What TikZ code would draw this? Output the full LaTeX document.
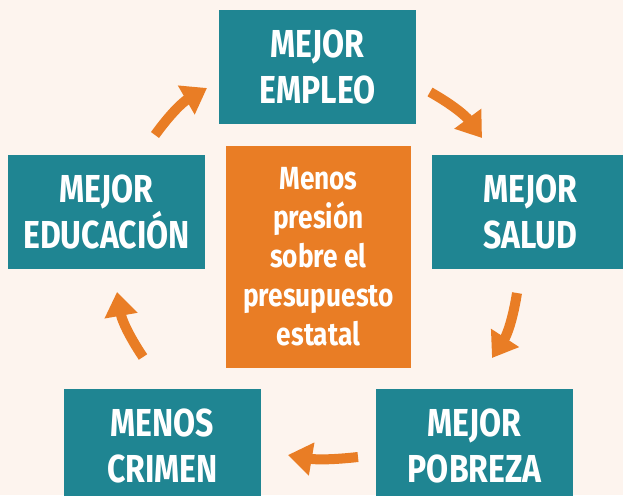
\documentclass[tikz,border=0pt]{standalone}
\usepackage{fontspec}
\setmainfont{Fira Sans}[FakeStretch=0.82]
\usetikzlibrary{arrows.meta}
\definecolor{tealbox}{HTML}{1F8592}
\definecolor{orangebox}{HTML}{E97D25}
\definecolor{bgcol}{HTML}{FDF4EE}
\begin{document}
\begin{tikzpicture}[x=1pt,y=-1pt,
  box/.style={fill=tealbox, text=white, minimum width=197pt, minimum height=114pt,
    inner sep=0pt, align=center, font=\fontsize{39}{46}\selectfont\bfseries},
  centerbox/.style={fill=orangebox, text=white, minimum width=185pt, minimum height=222pt,
    inner sep=0pt, align=center, font=\fontsize{32}{39}\selectfont\bfseries},
  cyc/.style={draw=orangebox, line width=10pt,
    -{Triangle[length=24pt,width=32pt]}}]
\useasboundingbox (0,0) rectangle (623,495);
\clip (0,0) rectangle (623,495);
\fill[bgcol] (0,0) rectangle (623,495);
\node[box] (empleo) at (317.5,67) {MEJOR\\EMPLEO};
\node[box] (educ) at (106.5,212) {MEJOR\\EDUCACIÓN};
\node[box] (salud) at (530.5,212) {MEJOR\\SALUD};
\node[box] (crimen) at (162.5,446) {MENOS\\CRIMEN};
\node[box] (pobreza) at (474.5,446) {MEJOR\\POBREZA};
\node[centerbox] (centro) at (318.5,257) {Menos\\presión\\sobre el\\presupuesto\\estatal};
\coordinate (a1s) at (155,135); \coordinate (a1e) at (207,88);
\coordinate (a2s) at (430,92);  \coordinate (a2e) at (482,138);
\coordinate (a3s) at (517,293); \coordinate (a3e) at (492,358);
\coordinate (a4s) at (358,457); \coordinate (a4e) at (288,455);
\coordinate (a5s) at (143,357); \coordinate (a5e) at (117,292);
\draw[cyc] (a1s) to[bend left=12] (a1e);
\draw[cyc] (a2s) to[bend left=12] (a2e);
\draw[cyc] (a3s) to[bend left=12] (a3e);
\draw[cyc] (a4s) to[bend left=8] (a4e);
\draw[cyc] (a5s) to[bend left=12] (a5e);
\end{tikzpicture}
\end{document}
